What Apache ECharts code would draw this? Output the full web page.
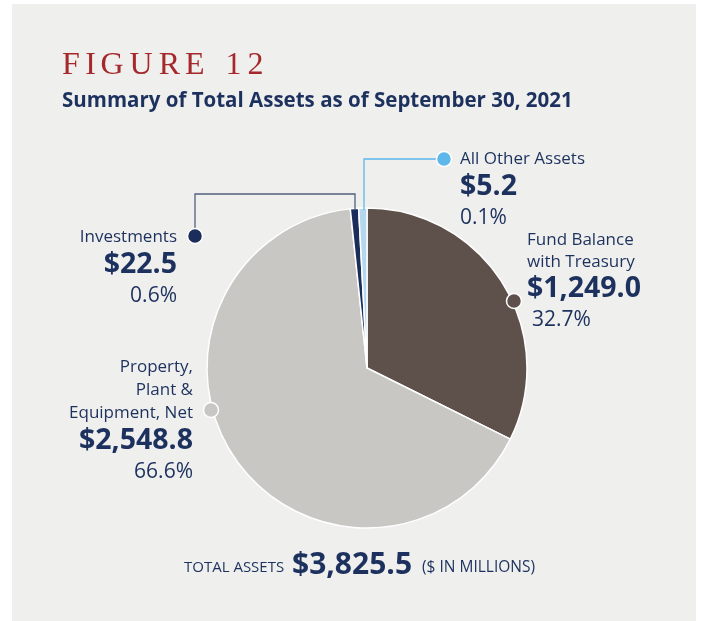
<!DOCTYPE html>
<html>
<head>
<meta charset="utf-8">
<script src="https://cdn.jsdelivr.net/npm/echarts@6/dist/echarts.min.js"></script>
<style>
html,body{margin:0;padding:0;background:#ffffff;}
#c{width:701px;height:621px;}
</style>
</head>
<body>
<div id="c"></div>
<script>
// ---- data ----
var categories = ['Fund Balance with Treasury', 'Property, Plant & Equipment, Net', 'Investments', 'All Other Assets'];
var values = [1249.0, 2548.8, 22.5, 5.2];
var percents = ['32.7%', '66.6%', '0.6%', '0.1%'];
var valueLabels = ['$1,249.0', '$2,548.8', '$22.5', '$5.2'];
var labelLines = [['Fund Balance', 'with Treasury'], ['Property,', 'Plant &', 'Equipment, Net'], ['Investments'], ['All Other Assets']];
var totalLabel = '$3,825.5';
var titleText = 'FIGURE 12';
var subtitleText = 'Summary of Total Assets as of September 30, 2021';

// ---- styles ----
var NAVY = '#1d315e';
var sliceColors = ['#5e514c', '#c8c7c3', '#1b2d5b', '#b4d7f0'];
var dotColors = ['#5e514c', '#c8c7c3', '#1b2d5b', '#5db7ea'];
var FONT = '"Open Sans", sans-serif';

var chart = echarts.init(document.getElementById('c'), null, {renderer: 'canvas'});

function labelBlock(idx, x, yTop, align, lineH) {
  var els = [];
  var y = yTop;
  labelLines[idx].forEach(function (t) {
    els.push({type: 'text', x: x, y: y, style: {text: t, fill: NAVY, font: '400 17px ' + FONT, align: align, verticalAlign: 'middle'}});
    y += lineH;
  });
  y += 5;
  els.push({type: 'text', x: x, y: y, style: {text: valueLabels[idx], fill: NAVY, font: '700 28.5px ' + FONT, align: align, verticalAlign: 'middle'}});
  y += 31;
  els.push({type: 'text', x: x + (idx === 0 ? 5 : 0), y: y, style: {text: percents[idx], fill: NAVY, font: '400 21px ' + FONT, align: align, verticalAlign: 'middle'}});
  return els;
}

function dot(cx, cy, color) {
  return {type: 'circle', shape: {cx: cx, cy: cy, r: 7.5}, style: {fill: color, stroke: '#ffffff', lineWidth: 1.5}, z: 10};
}

var titleEls = [];
(function () {
  var x = 62;
  var widths = {F: 19, I: 11, G: 25, U: 25, R: 22, E: 20, ' ': 12, '1': 18, '2': 17};
  titleText.split('').forEach(function (ch) {
    if (ch !== ' ') {
      titleEls.push({type: 'text', x: x, y: 66, style: {text: ch, fill: '#a5282c', font: '400 32px "Liberation Serif", "DejaVu Serif", serif', verticalAlign: 'middle'}});
    }
    x += (widths[ch] || 18) + 4.2;
  });
})();

var graphics = [
  {type: 'rect', shape: {x: 12, y: 4, width: 684, height: 617}, style: {fill: '#efefed'}, z: -10},
  {type: 'text', x: 62, y: 101, style: {text: subtitleText, fill: NAVY, font: '700 20.5px ' + FONT, verticalAlign: 'middle'}},
  // leader lines
  {type: 'polyline', shape: {points: [[355, 210], [355, 194], [195, 194], [195, 236]]}, style: {stroke: '#51607f', lineWidth: 1.3, fill: null}, z: 5},
  {type: 'polyline', shape: {points: [[364, 210], [364, 159], [444, 159]]}, style: {stroke: '#5db7ea', lineWidth: 1.3, fill: null}, z: 5},
  dot(195, 236, dotColors[2]),
  dot(444, 159, dotColors[3]),
  dot(514, 301, dotColors[0]),
  dot(211, 410, dotColors[1]),
  // total
  {type: 'text', x: 184, y: 568, style: {text: 'TOTAL ASSETS', fill: NAVY, font: '400 15px ' + FONT, verticalAlign: 'middle'}},
  {type: 'text', x: 292, y: 565, style: {text: totalLabel, fill: NAVY, font: '700 30px ' + FONT, verticalAlign: 'middle'}},
  {type: 'text', x: 422, y: 568, style: {text: '($ IN MILLIONS)', fill: NAVY, font: '400 15.5px ' + FONT, verticalAlign: 'middle'}}
].concat(titleEls);
graphics = graphics.concat(labelBlock(2, 177, 237, 'right', 23));
graphics = graphics.concat(labelBlock(3, 460, 159, 'left', 23));
graphics = graphics.concat(labelBlock(0, 527, 240, 'left', 22));
graphics = graphics.concat(labelBlock(1, 193, 367, 'right', 23));

chart.setOption({
  animation: false,
  backgroundColor: '#ffffff',
  graphic: graphics,
  series: [{
    type: 'pie',
    center: [367, 368],
    radius: [0, 160],
    startAngle: 90,
    clockwise: true,
    minAngle: 3,
    label: {show: false},
    labelLine: {show: false},
    emphasis: {disabled: true},
    itemStyle: {borderColor: '#ffffff', borderWidth: 1.5},
    data: categories.map(function (c, i) {
      return {name: c, value: values[i], itemStyle: {color: sliceColors[i]}};
    })
  }]
});
</script>
</body>
</html>
